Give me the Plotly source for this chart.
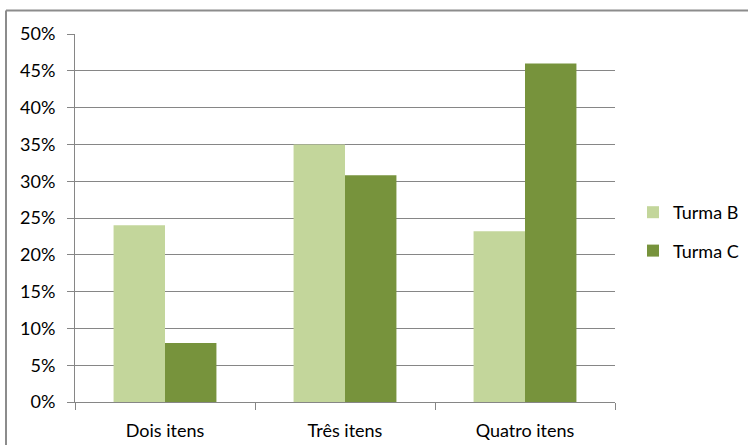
import plotly.graph_objects as go

categories = ["Dois itens", "Três itens", "Quatro itens"]
turma_b = [0.24, 0.35, 0.232]
turma_c = [0.08, 0.308, 0.46]
series_names = ["Turma B", "Turma C"]
y_tick_values = [0, 0.05, 0.10, 0.15, 0.20, 0.25, 0.30, 0.35, 0.40, 0.45, 0.50]

COL_B = "#C3D69B"
COL_C = "#77933C"
GRID = "#868686"
FONT = dict(family="Lato", size=18, color="#000000")

fig = go.Figure()
fig.add_trace(go.Bar(x=categories, y=turma_b, name=series_names[0],
                     marker=dict(color=COL_B, line=dict(width=0)), legendgroup="b"))
fig.add_trace(go.Bar(x=categories, y=turma_c, name=series_names[1],
                     marker=dict(color=COL_C, line=dict(width=0)), legendgroup="c"))

W, H = 748, 445
L, R, T, B = 75, 133, 34, 43
pw, ph = W - L - R, H - T - B

def px_x(px):
    return (px - L) / pw

def px_y(py):
    return (H - B - py) / ph

fig.update_layout(
    width=W, height=H,
    margin=dict(l=L, r=R, t=T, b=B, autoexpand=False),
    paper_bgcolor="white", plot_bgcolor="white",
    font=FONT,
    barmode="group", bargap=1.5 / 3.5, bargroupgap=0,
    showlegend=True,
    legend=dict(x=px_x(633), xanchor="left", y=px_y(194), yanchor="top",
                font=dict(family="Lato", size=18, color="#000000"),
                tracegroupgap=12, traceorder="grouped",
                bgcolor="rgba(0,0,0,0)"),
    xaxis=dict(showline=True, linecolor=GRID, linewidth=1,
               ticks="outside", ticklen=7, tickcolor=GRID, tickson="boundaries",
               showgrid=False, tickfont=FONT, ticklabelstandoff=12, fixedrange=True),
    yaxis=dict(range=[0, 0.5], tickvals=y_tick_values, tickformat=".0%",
               showline=True, linecolor=GRID, linewidth=1,
               ticks="outside", ticklen=7, tickcolor=GRID,
               showgrid=True, gridcolor=GRID, gridwidth=1,
               zeroline=False, tickfont=FONT, ticklabelstandoff=8, fixedrange=True),
    shapes=[
        dict(type="line", xref="paper", yref="paper",
             x0=px_x(6), x1=px_x(748), y0=px_y(10.5), y1=px_y(10.5),
             line=dict(color="#8C8C8C", width=2)),
        dict(type="line", xref="paper", yref="paper",
             x0=px_x(6), x1=px_x(6), y0=px_y(10.5), y1=px_y(445),
             line=dict(color="#8C8C8C", width=2)),
    ],
)

fig.write_html("out.html")
